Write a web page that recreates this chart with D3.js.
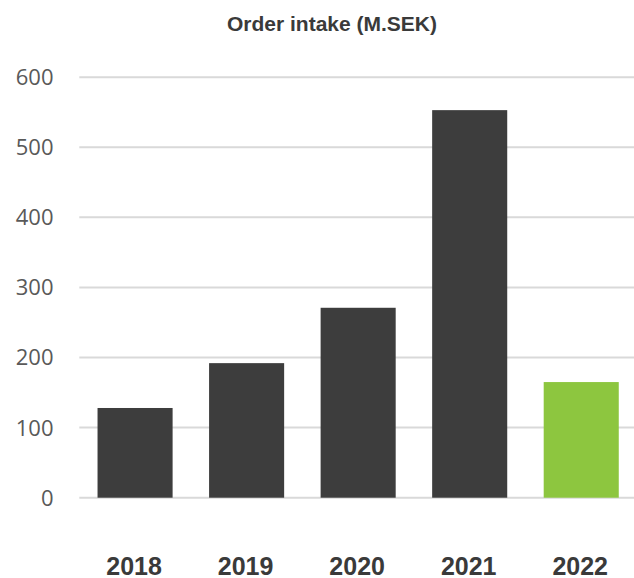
<!DOCTYPE html>
<html>
<head>
<meta charset="utf-8">
<script src="https://cdn.jsdelivr.net/npm/d3@7"></script>
<style>
  html, body { margin: 0; padding: 0; background: #fff; }
  svg { display: block; }
</style>
</head>
<body>
<svg id="chart" width="634" height="578"></svg>
<script>
const title = "Order intake (M.SEK)";
const categories = ["2018", "2019", "2020", "2021", "2022"];
const values = [128, 192, 271, 553, 165];
const barColors = ["#3d3d3d", "#3d3d3d", "#3d3d3d", "#3d3d3d", "#8dc63f"];
const yTicks = [0, 100, 200, 300, 400, 500, 600];

(function () {
const svg = d3.select("#chart");
const W = 634;
const plotLeft = 79.3, plotRight = 637, plotTop = 77.2, plotBottom = 497.7;

const x = d3.scaleBand().domain(categories).range([plotLeft, plotRight])
  .paddingInner(0.327).paddingOuter(0.1635);
const y = d3.scaleLinear().domain([0, 600]).range([plotBottom, plotTop]);

// gridlines
svg.append("g").selectAll("line").data(yTicks).join("line")
  .attr("x1", plotLeft).attr("x2", W)
  .attr("y1", d => y(d)).attr("y2", d => y(d))
  .attr("stroke", "#d9d9d9").attr("stroke-width", 2);

// y labels
svg.append("g").selectAll("text").data(yTicks).join("text")
  .attr("x", 53.5).attr("y", d => y(d)).attr("dy", "0.36em")
  .attr("text-anchor", "end")
  .attr("font-family", "'Open Sans', sans-serif")
  .attr("font-size", 22).attr("fill", "#595959")
  .text(d => d);

// bars
svg.append("g").selectAll("rect").data(values).join("rect")
  .attr("x", (d, i) => x(categories[i]))
  .attr("width", x.bandwidth())
  .attr("y", d => y(d))
  .attr("height", d => y(0) - y(d))
  .attr("fill", (d, i) => barColors[i]);

// x labels
svg.append("g").selectAll("text").data(categories).join("text")
  .attr("x", d => x(d) + x.bandwidth() / 2 - 1)
  .attr("y", 575)
  .attr("text-anchor", "middle")
  .attr("font-family", "'Liberation Sans', Arial, sans-serif")
  .attr("font-weight", "bold")
  .attr("font-size", 25).attr("fill", "#3a3a3a")
  .text(d => d);

// title
svg.append("text")
  .attr("x", 332).attr("y", 31)
  .attr("text-anchor", "middle")
  .attr("font-family", "'Liberation Sans', Arial, sans-serif")
  .attr("font-weight", "bold")
  .attr("font-size", 21).attr("fill", "#3a3a3a")
  .text(title);
})();
</script>
</body>
</html>
